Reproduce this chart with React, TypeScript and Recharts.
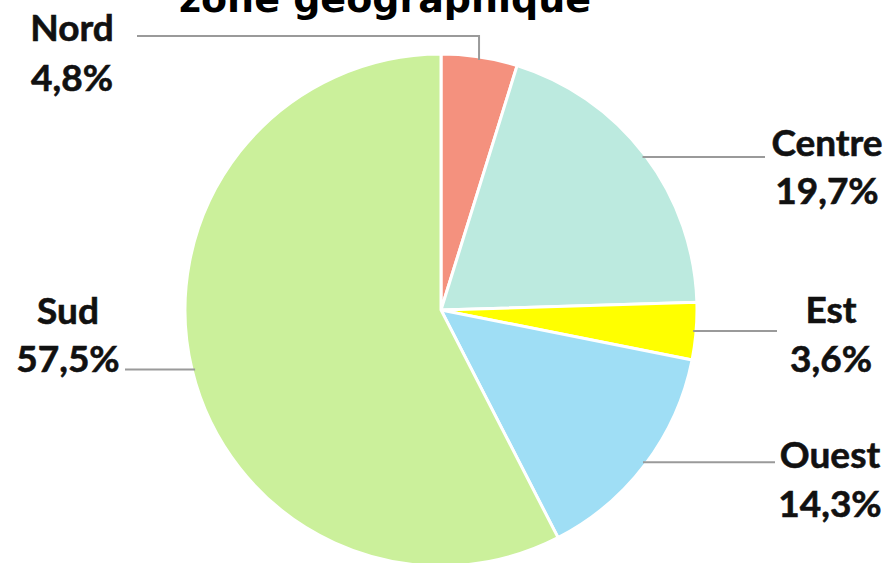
import { PieChart, Pie, Cell } from "recharts";

// Répartition par zone géographique (%)
const zones = ["Nord", "Centre", "Est", "Ouest", "Sud"];
const shares = [4.8, 19.7, 3.6, 14.3, 57.5];
const colors = ["#F4917E", "#BCEADF", "#FFFF00", "#9FDEF5", "#CBF09B"];

const data = zones.map((name, i) => ({ name, value: shares[i] }));

// label placement: text centre x, line-1 / line-2 baselines, end of leader line
const labelLayout = [
  { tx: 72, y1: 41, y2: 91, lineEnd: 137, elbowY: 36 },
  { tx: 827, y1: 156, y2: 204, lineEnd: 765 },
  { tx: 831, y1: 323, y2: 372, lineEnd: 777 },
  { tx: 830, y1: 468, y2: 517, lineEnd: 775 },
  { tx: 68, y1: 324, y2: 372, lineEnd: 125 },
];

const RAD = Math.PI / 180;
const labelFont = "Lato, 'Open Sans', sans-serif";

function fmt(v: number) {
  return v.toFixed(1).replace(".", ",") + "%";
}

function renderLabel(props: any) {
  const { cx, cy, midAngle, outerRadius, index, name, value } = props;
  const lay = labelLayout[index];
  const r = outerRadius - 3;
  const sx = cx + r * Math.cos(-midAngle * RAD);
  const sy = cy + r * Math.sin(-midAngle * RAD);
  const path =
    lay.elbowY !== undefined
      ? `M${sx},${sy}L${sx},${lay.elbowY}L${lay.lineEnd},${lay.elbowY}`
      : `M${sx},${sy}L${lay.lineEnd},${sy}`;
  const textStyle = { fontFamily: labelFont, fontWeight: 700, fontSize: 37 };
  return (
    <g key={`lbl-${index}`}>
      <path d={path} stroke="#9a9a9a" strokeWidth={2} fill="none" />
      <text x={lay.tx} y={lay.y1} textAnchor="middle" fill="#111" stroke="#111" strokeWidth={0.6} style={textStyle}>
        {name}
      </text>
      <text x={lay.tx} y={lay.y2} textAnchor="middle" fill="#111" stroke="#111" strokeWidth={0.6} style={textStyle}>
        {fmt(value)}
      </text>
    </g>
  );
}

export default function App() {
  return (
    <div style={{ position: "absolute", left: 0, top: 0, width: 887, height: 563, background: "#fff" }}>
      <PieChart width={887} height={563} margin={{ top: 0, right: 0, bottom: 0, left: 0 }}>
        <text
          x={385}
          y={12}
          textAnchor="middle"
          fill="#000"
          style={{ fontFamily: "'DejaVu Sans', sans-serif", fontWeight: 700, fontSize: 38 }}
        >
          zone géographique
        </text>
        <Pie
          data={data}
          dataKey="value"
          nameKey="name"
          cx={441}
          cy={310}
          outerRadius={256}
          startAngle={90}
          endAngle={-270}
          stroke="#fff"
          strokeWidth={3}
          label={renderLabel}
          labelLine={false}
          isAnimationActive={false}
        >
          {data.map((_d, i) => (
            <Cell key={`cell-${i}`} fill={colors[i]} />
          ))}
        </Pie>
      </PieChart>
    </div>
  );
}
